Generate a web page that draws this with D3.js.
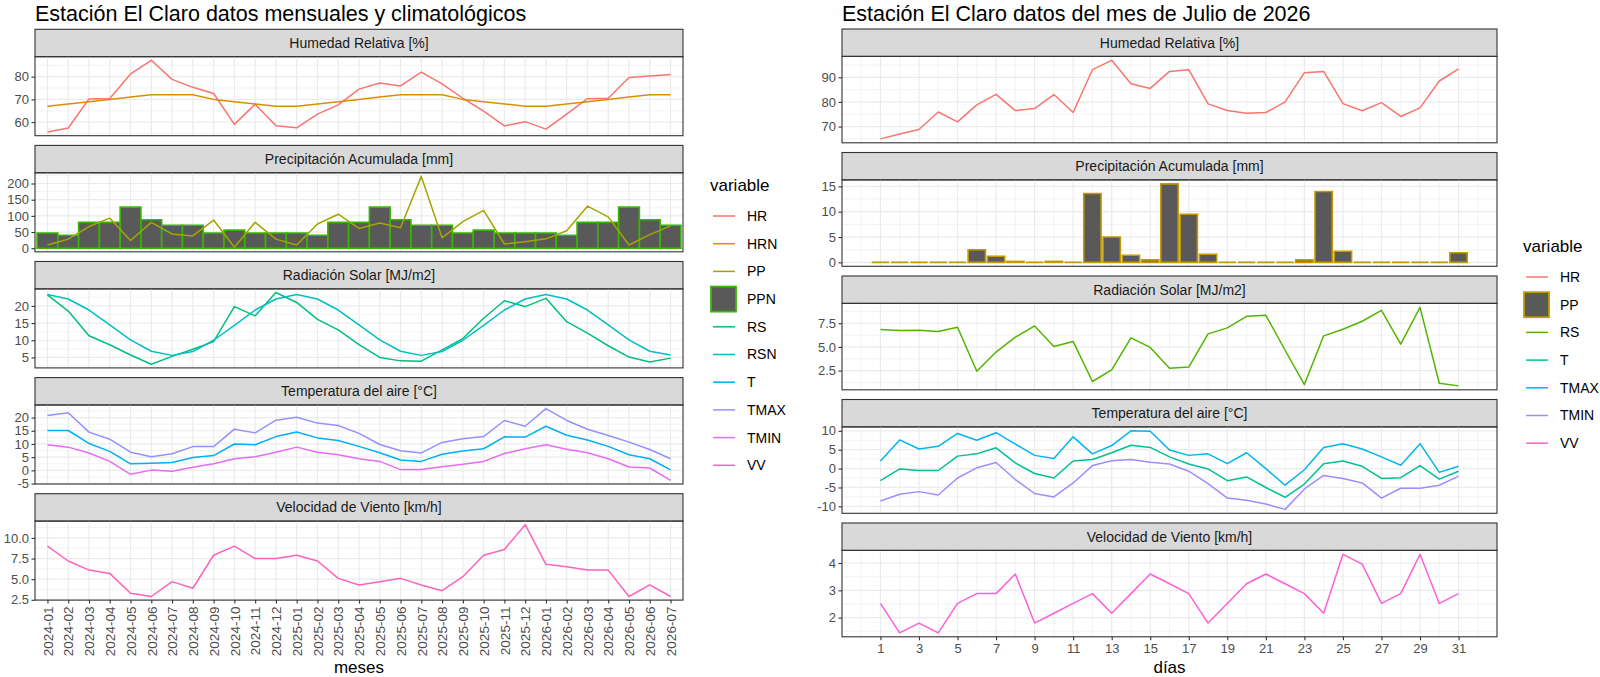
<!DOCTYPE html>
<html>
<head>
<meta charset="utf-8">
<script src="https://cdn.jsdelivr.net/npm/d3@7"></script>
<style>
  body { margin: 0; background: #fff; }
  text { font-family: "Liberation Sans", Arial, sans-serif; }
</style>
</head>
<body>
<script>
const width = 1600
const height = 677

// ---- datos mensuales (2024-01 .. 2026-07)
const meses = ['2024-01','2024-02','2024-03','2024-04','2024-05','2024-06','2024-07','2024-08','2024-09','2024-10','2024-11','2024-12',
  '2025-01','2025-02','2025-03','2025-04','2025-05','2025-06','2025-07','2025-08','2025-09','2025-10','2025-11','2025-12',
  '2026-01','2026-02','2026-03','2026-04','2026-05','2026-06','2026-07']
const HR   = [55.6,57.4,70.2,70.4,81.2,87.2,78.8,75.3,72.6,59.0,67.9,58.4,57.5,63.5,67.6,74.5,77.2,75.9,82.0,76.8,70.5,64.8,58.3,60.2,56.9,63.5,70.3,70.5,79.6,80.3,80.9]
const HRN  = [67,68,69,70,71,72,72,72,70,69,68,67,67,68,69,70,71,72,72,72,70,69,68,67,67,68,69,70,71,72,72]
const PP   = [10,28,67,93,24,80,44,38,87,3,80,28,10,75,105,61,78,63,222,32,82,117,13,20,29,54,130,97,10,42,69]
const PPN  = [47,40,80,80,127,88,71,71,47,56,47,47,47,40,80,80,127,88,71,71,47,56,47,47,47,40,80,80,127,88,71]
const RS   = [23.2,18.5,11.3,8.7,5.7,3.0,5.3,7.4,9.6,19.8,17.1,23.9,21.0,16.1,13.0,8.7,5.0,4.0,3.9,7.2,10.5,16.4,21.5,19.8,22.2,15.4,12.1,8.4,5.1,3.7,4.8]
const RSN  = [23.3,22.0,18.8,14.5,10.1,6.8,5.6,6.7,10.0,14.3,18.8,22.0,23.3,22.0,18.8,14.5,10.1,6.8,5.6,6.7,10.0,14.3,18.8,22.0,23.3,22.0,18.8,14.5,10.1,6.8,5.7]
const T    = [15.1,15.1,10.2,7.2,2.5,2.7,3.0,4.9,5.6,10.0,9.7,12.8,14.5,12.3,11.3,9.1,6.7,3.9,3.4,6.1,7.3,8.2,12.7,12.6,16.7,13.3,11.5,9.1,5.9,4.4,0.2]
const TMAX = [20.8,21.8,14.5,11.8,6.9,5.2,6.3,9.0,9.0,15.6,14.2,19.0,20.1,17.9,17.0,14.0,9.8,7.4,6.6,10.6,12.0,12.8,18.9,16.7,23.4,18.9,15.6,13.2,10.7,7.9,4.4]
const TMIN = [9.7,8.8,6.6,3.4,-1.5,0.1,-0.3,1.2,2.5,4.4,5.2,6.9,8.8,6.9,5.9,4.4,3.4,0.3,0.3,1.4,2.3,3.4,6.4,8.2,9.7,8.0,6.7,4.4,1.3,0.9,-3.8]
const VV   = [9.0,7.2,6.1,5.7,3.3,2.9,4.7,3.9,7.9,9.0,7.5,7.5,7.9,7.2,5.1,4.3,4.7,5.1,4.3,3.6,5.3,7.9,8.6,11.6,6.8,6.5,6.1,6.1,2.9,4.3,2.9]

// ---- datos diarios julio 2026
const dias   = [1,2,3,4,5,6,7,8,9,10,11,12,13,14,15,16,17,18,19,20,21,22,23,24,25,26,27,28,29,30,31]
const HRd    = [65.0,67.0,68.8,75.9,71.9,78.8,83.1,76.5,77.3,83.0,75.7,93.1,96.9,87.4,85.5,92.4,93.1,79.2,76.5,75.4,75.7,80.0,91.9,92.4,79.3,76.4,79.7,74.1,77.6,88.5,93.4]
const PPd    = [0,0,0,0,0,2.5,1.2,0.2,0,0.2,0,13.6,5.0,1.4,0.5,15.5,9.5,1.6,0,0,0,0,0.5,14.0,2.2,0,0,0,0,0,1.9]
const RSd    = [6.84,6.73,6.77,6.63,7.08,2.43,4.46,6.03,7.22,5.05,5.58,1.35,2.57,5.96,4.95,2.74,2.88,6.38,7.01,8.23,8.34,4.65,1.03,6.17,6.87,7.71,8.86,5.3,9.18,1.17,0.89]
const Td     = [-3.2,-0.1,-0.5,-0.5,3.3,3.9,5.5,1.5,-1.3,-2.5,2.0,2.4,4.2,6.2,5.6,3.1,1.2,-0.1,-3.2,-2.2,-5.0,-7.6,-4.1,1.3,2.0,0.6,-2.6,-2.4,0.8,-2.8,-0.7]
const TMAXd  = [2.0,7.6,5.2,5.9,9.3,7.5,9.5,6.5,3.5,2.7,8.4,3.9,6.1,10.0,9.9,4.9,3.5,3.9,1.3,4.2,0.0,-4.4,-0.3,5.6,6.6,5.2,3.1,0.9,6.6,-1.0,0.6]
const TMINd  = [-8.6,-6.8,-6.1,-7.0,-2.5,0.2,1.6,-2.9,-6.6,-7.5,-3.8,0.8,2.1,2.4,1.7,1.2,-0.7,-4.0,-7.8,-8.4,-9.4,-10.8,-5.4,-1.8,-2.6,-3.8,-7.8,-5.2,-5.2,-4.4,-2.0]
const VVd    = [2.52,1.44,1.80,1.44,2.52,2.88,2.88,3.60,1.80,2.16,2.52,2.88,2.16,2.88,3.60,3.24,2.88,1.80,2.52,3.24,3.60,3.24,2.88,2.16,4.32,3.96,2.52,2.88,4.32,2.52,2.88]

// ---- ejes
const diasTicks = [1,3,5,7,9,11,13,15,17,19,21,23,25,27,29,31]
const diasMinor = [0,2,4,6,8,10,12,14,16,18,20,22,24,26,28,30,32]
const ticksHR = [60,70,80], ticksPP = [0,50,100,150,200], ticksRS = [5,10,15,20], ticksT = [-5,0,5,10,15,20], ticksVV = [2.5,5.0,7.5,10.0]
const ticksHRd = [70,80,90], ticksPPd = [0,5,10,15], ticksRSd = [2.5,5.0,7.5], ticksTd = [-10,-5,0,5,10], ticksVVd = [2,3,4]

// ---- colores (paleta hue de ggplot)
const colL = {HR:'#F8766D', HRN:'#D89000', PP:'#A3A500', PPN:'#39B600', RS:'#00BF7D', RSN:'#00BFC4', T:'#00B0F6', TMAX:'#9590FF', TMIN:'#E76BF3', VV:'#FF62BC'}
const colR = {HR:'#F8766D', PP:'#C49A00', RS:'#53B400', T:'#00C094', TMAX:'#00B6EB', TMIN:'#A58AFF', VV:'#FB61D7'}

const svg = d3.select('body').append('svg')
    .attr('width', width)
    .attr('height', height)

const stripH = 27.4
const gap = 9.7
const barFill = '#595959'

function styleAxis(g) {
    g.select('.domain').remove()
    g.selectAll('.tick line').attr('stroke', '#333333').attr('stroke-width', 1.1)
    g.selectAll('.tick text').attr('fill', '#4D4D4D').style('font-size', '13px')
}

// draw one column of facets (facet_wrap ncol = 1, free y)
function drawFacets(cfg) {
    const x = cfg.x
    cfg.panels.forEach((p, i) => {
        const sy = cfg.top + i * (stripH + cfg.panelH + gap)
        const py = sy + stripH
        const pb = py + cfg.panelH

        const vals = p.series.flatMap(s => s.type === 'bar' ? s.values.concat([0]) : s.values)
        const lo = d3.min(vals), hi = d3.max(vals), pad = (hi - lo) * 0.05
        const y = d3.scaleLinear().domain([lo - pad, hi + pad]).range([pb, py])

        const step = p.ticks[1] - p.ticks[0]
        const yMinor = [p.ticks[0] - step / 2].concat(p.ticks.map(t => t + step / 2))
            .filter(v => v > y.domain()[0] && v < y.domain()[1])

        const g = svg.append('g')

        // strip
        g.append('rect')
            .attr('x', cfg.left).attr('y', sy)
            .attr('width', cfg.right - cfg.left).attr('height', stripH)
            .attr('fill', '#D9D9D9').attr('stroke', '#333333').attr('stroke-width', 1.1)
        g.append('text')
            .attr('x', (cfg.left + cfg.right) / 2).attr('y', sy + stripH / 2)
            .attr('dy', '0.35em').attr('text-anchor', 'middle')
            .attr('fill', '#1A1A1A').style('font-size', '14px')
            .text(p.title)

        // grid
        g.selectAll(null).data(yMinor).join('line')
            .attr('x1', cfg.left).attr('x2', cfg.right)
            .attr('y1', d => y(d)).attr('y2', d => y(d))
            .attr('stroke', '#EBEBEB').attr('stroke-width', 0.6)
        g.selectAll(null).data(cfg.xMinor).join('line')
            .attr('x1', d => x(d)).attr('x2', d => x(d))
            .attr('y1', py).attr('y2', pb)
            .attr('stroke', '#EBEBEB').attr('stroke-width', 0.6)
        g.selectAll(null).data(p.ticks).join('line')
            .attr('x1', cfg.left).attr('x2', cfg.right)
            .attr('y1', d => y(d)).attr('y2', d => y(d))
            .attr('stroke', '#EBEBEB').attr('stroke-width', 1.2)
        g.selectAll(null).data(cfg.xMajor).join('line')
            .attr('x1', d => x(d)).attr('x2', d => x(d))
            .attr('y1', py).attr('y2', pb)
            .attr('stroke', '#EBEBEB').attr('stroke-width', 1.2)

        // bars first, lines on top
        p.series.filter(s => s.type === 'bar').forEach(s => {
            g.selectAll(null).data(s.values).join('path')
                .attr('d', (v, j) => {
                    const cx = x(cfg.cats[j])
                    const x0 = cx - cfg.barW / 2, x1 = cx + cfg.barW / 2
                    return `M${x0},${y(0)}H${x1}V${y(v)}H${x0}Z`
                })
                .attr('fill', barFill)
                .attr('stroke', s.color).attr('stroke-width', 1.6)
        })
        p.series.filter(s => s.type === 'line').forEach(s => {
            const line = d3.line().x((v, j) => x(cfg.cats[j])).y(v => y(v))
            g.append('path')
                .attr('d', line(s.values))
                .attr('fill', 'none')
                .attr('stroke', s.color).attr('stroke-width', 1.5)
                .attr('stroke-linejoin', 'round')
        })

        // border
        g.append('rect')
            .attr('x', cfg.left).attr('y', py)
            .attr('width', cfg.right - cfg.left).attr('height', cfg.panelH)
            .attr('fill', 'none').attr('stroke', '#333333').attr('stroke-width', 1.1)

        // y axis
        g.append('g')
            .attr('transform', `translate(${cfg.left},0)`)
            .call(d3.axisLeft(y).tickValues(p.ticks).tickSize(3.5).tickPadding(2.5)
                .tickFormat(d => d.toFixed(p.dec || 0)))
            .call(styleAxis)

        // x axis on last panel
        if (i === cfg.panels.length - 1) {
            const xa = g.append('g')
                .attr('transform', `translate(0,${pb})`)
                .call(d3.axisBottom(x).tickValues(cfg.xTicks).tickSize(3.5).tickPadding(3))
                .call(styleAxis)
            if (cfg.rotate) {
                xa.selectAll('.tick text')
                    .attr('transform', 'rotate(-90)')
                    .attr('x', -6.5).attr('y', 0).attr('dy', '0.35em')
                    .attr('text-anchor', 'end')
                    .style('font-size', '13.5px')
            }
            svg.append('text')
                .attr('x', (cfg.left + cfg.right) / 2).attr('y', 673)
                .attr('text-anchor', 'middle').attr('fill', '#000')
                .style('font-size', '17px')
                .text(cfg.xTitle)
        }
    })
}

function drawLegend(x0, y0, keys, colors, barKey) {
    svg.append('text')
        .attr('x', x0).attr('y', y0).attr('dy', '0.35em')
        .style('font-size', '17px').attr('fill', '#000')
        .text('variable')
    keys.forEach((k, i) => {
        const cy = y0 + 31 + i * 27.7
        if (k === barKey) {
            svg.append('rect')
                .attr('x', x0 + 1).attr('y', cy - 12.5)
                .attr('width', 25).attr('height', 25)
                .attr('fill', barFill).attr('stroke', colors[k]).attr('stroke-width', 1.8)
        } else {
            svg.append('line')
                .attr('x1', x0 + 3).attr('x2', x0 + 25)
                .attr('y1', cy).attr('y2', cy)
                .attr('stroke', colors[k]).attr('stroke-width', 1.5)
        }
        svg.append('text')
            .attr('x', x0 + 37).attr('y', cy).attr('dy', '0.35em')
            .style('font-size', '14px').attr('fill', '#000')
            .text(k)
    })
}

// ---- izquierda: mensual
const xL = d3.scalePoint().domain(meses).range([35, 683]).padding(0.6)

svg.append('text')
    .attr('x', 35).attr('y', 20.5)
    .style('font-size', '21.5px').attr('fill', '#000')
    .text('Estación El Claro datos mensuales y climatológicos')

drawFacets({
    x: xL, cats: meses, left: 35, right: 683, top: 29.3, panelH: 79,
    barW: xL.step(), xMajor: meses, xMinor: [], xTicks: meses, rotate: true, xTitle: 'meses',
    panels: [
        {title: 'Humedad Relativa [%]', ticks: ticksHR, series: [
            {type: 'line', values: HR, color: colL.HR},
            {type: 'line', values: HRN, color: colL.HRN}]},
        {title: 'Precipitación Acumulada [mm]', ticks: ticksPP, series: [
            {type: 'bar', values: PPN, color: colL.PPN},
            {type: 'line', values: PP, color: colL.PP}]},
        {title: 'Radiación Solar [MJ/m2]', ticks: ticksRS, series: [
            {type: 'line', values: RS, color: colL.RS},
            {type: 'line', values: RSN, color: colL.RSN}]},
        {title: 'Temperatura del aire [°C]', ticks: ticksT, series: [
            {type: 'line', values: T, color: colL.T},
            {type: 'line', values: TMAX, color: colL.TMAX},
            {type: 'line', values: TMIN, color: colL.TMIN}]},
        {title: 'Velocidad de Viento [km/h]', ticks: ticksVV, dec: 1, series: [
            {type: 'line', values: VV, color: colL.VV}]}
    ]
})
drawLegend(710, 185, Object.keys(colL), colL, 'PPN')

// ---- derecha: diario
const xR = d3.scaleLinear().domain([-0.995, 32.995]).range([842, 1497])

svg.append('text')
    .attr('x', 842).attr('y', 20.5)
    .style('font-size', '21.5px').attr('fill', '#000')
    .text('Estación El Claro datos del mes de Julio de 2026')

drawFacets({
    x: xR, cats: dias, left: 842, right: 1497, top: 29, panelH: 86.4,
    barW: 0.9 * (xR(1) - xR(0)), xMajor: diasTicks, xMinor: diasMinor, xTicks: diasTicks, rotate: false, xTitle: 'días',
    panels: [
        {title: 'Humedad Relativa [%]', ticks: ticksHRd, series: [
            {type: 'line', values: HRd, color: colR.HR}]},
        {title: 'Precipitación Acumulada [mm]', ticks: ticksPPd, series: [
            {type: 'bar', values: PPd, color: colR.PP}]},
        {title: 'Radiación Solar [MJ/m2]', ticks: ticksRSd, dec: 1, series: [
            {type: 'line', values: RSd, color: colR.RS}]},
        {title: 'Temperatura del aire [°C]', ticks: ticksTd, series: [
            {type: 'line', values: Td, color: colR.T},
            {type: 'line', values: TMAXd, color: colR.TMAX},
            {type: 'line', values: TMINd, color: colR.TMIN}]},
        {title: 'Velocidad de Viento [km/h]', ticks: ticksVVd, series: [
            {type: 'line', values: VVd, color: colR.VV}]}
    ]
})
drawLegend(1523, 246, Object.keys(colR), colR, 'PP')
</script>
</body>
</html>
